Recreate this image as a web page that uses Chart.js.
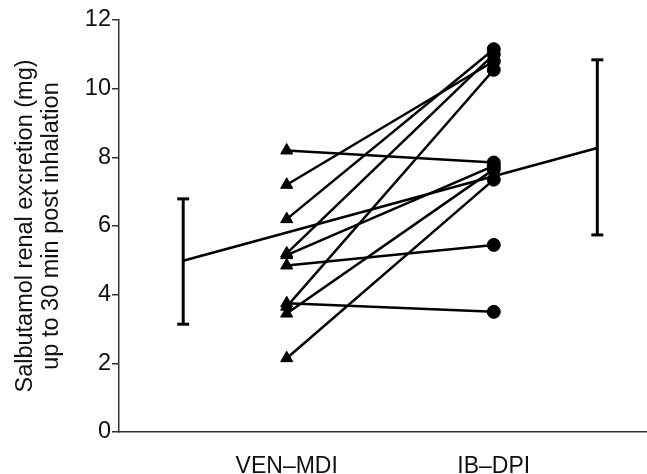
<!DOCTYPE html>
<html>
<head>
<meta charset="utf-8">
<script src="https://cdn.jsdelivr.net/npm/chart.js@4/dist/chart.umd.min.js"></script>
<style>
  html, body { margin: 0; padding: 0; background: #fff; }
  #wrap { width: 647px; height: 474px; position: relative; }
</style>
</head>
<body>
<div id="wrap"><canvas id="c" width="647" height="474"></canvas></div>
<script>
// ---- data ----
const categories = ['VEN\u2013MDI', 'IB\u2013DPI'];
const venMdi = [8.2, 7.2, 6.2, 5.2, 5.15, 4.85, 3.75, 3.65, 3.45, 2.15];
const ibDpi  = [7.85, 10.8, 11.15, 11.0, 7.75, 5.45, 3.5, 10.55, 7.65, 7.35];
const groupMeans = [4.99, 8.27];
const groupLow   = [3.14, 5.74];
const groupHigh  = [6.79, 10.84];
const yTicks = [0, 2, 4, 6, 8, 10, 12];
const yTitle = ['Salbutamol renal excretion (mg)', 'up to 30 min post inhalation'];

// ---- layout (x positions on the linear scale) ----
const catPos = [2, 4];
const summaryPos = [1, 5];

const ink = '#000';
const datasets = [];

// individual subjects
venMdi.forEach((v, i) => {
  datasets.push({
    data: [{x: catPos[0], y: v}, {x: catPos[1], y: ibDpi[i]}],
    borderColor: ink, borderWidth: 2.5,
    pointStyle: ['triangle', 'circle'],
    pointRadius: [7, 6.5],
    pointBackgroundColor: ink, pointBorderColor: ink, pointBorderWidth: 1,
    tension: 0
  });
});

// mean line
datasets.push({
  data: summaryPos.map((p, g) => ({x: p, y: groupMeans[g]})),
  borderColor: ink, borderWidth: 2.5, pointRadius: 0
});

// error bars
summaryPos.forEach((p, g) => {
  datasets.push({
    data: [{x: p, y: groupLow[g]}, {x: p, y: groupHigh[g]}],
    borderColor: ink, borderWidth: 3,
    pointStyle: 'line', pointRadius: 6,
    pointBorderColor: ink, pointBorderWidth: 3
  });
});

const FONT = '"Liberation Sans", Arial, sans-serif';

new Chart(document.getElementById('c'), {
  type: 'line',
  data: { datasets },
  options: {
    responsive: false,
    animation: false,
    events: [],
    layout: { autoPadding: false, padding: { top: 20, right: 0, bottom: 0, left: 0 } },
    plugins: { legend: { display: false }, tooltip: { enabled: false } },
    scales: {
      x: {
        type: 'linear', min: 0.38, max: 5.48,
        afterBuildTicks: s => { s.ticks = catPos.map(v => ({value: v})); },
        afterFit: s => { s.height = 42; s.paddingRight = 0; s.paddingLeft = 0; },
        ticks: {
          autoSkip: false, maxRotation: 0, padding: 13,
          color: '#111', font: { family: FONT, size: 23 },
          callback: (v) => { const i = catPos.indexOf(v); return i >= 0 ? categories[i] : ''; }
        },
        grid: { display: false },
        border: { display: true, color: '#333', width: 1.5 }
      },
      y: {
        type: 'linear', min: 0, max: 12,
        afterBuildTicks: s => { s.ticks = yTicks.map(v => ({value: v})); },
        afterFit: s => { s.width = 119; },
        ticks: {
          padding: 1, color: '#111', font: { family: FONT, size: 23.5 }
        },
        grid: { display: true, drawOnChartArea: false, drawTicks: true, tickLength: 7, color: '#333', lineWidth: 1.5 },
        border: { display: true, color: '#333', width: 1.5 },
        title: {
          display: true, text: yTitle, color: '#111',
          font: { family: FONT, size: 23.5, lineHeight: 1.08 },
          padding: { top: 13, bottom: 0 }
        }
      }
    }
  }
});
</script>
</body>
</html>
